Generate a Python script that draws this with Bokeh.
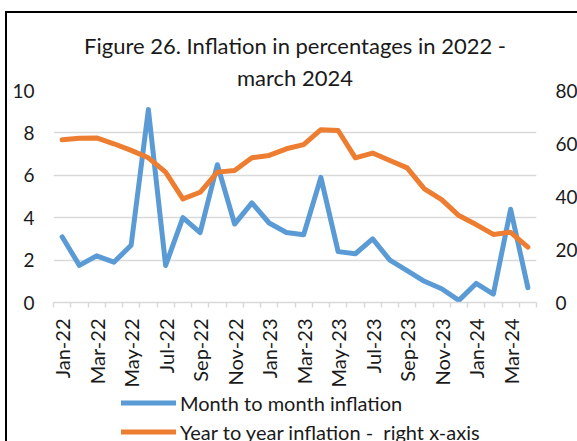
from math import pi
from bokeh.plotting import figure
from bokeh.layouts import column
from bokeh.models import (Range1d, LinearAxis, FixedTicker, Legend, LegendItem,
                          Title)
from bokeh.embed import file_html
from bokeh.resources import INLINE

months = ["Jan-22", "Feb-22", "Mar-22", "Apr-22", "May-22", "Jun-22", "Jul-22",
          "Aug-22", "Sep-22", "Oct-22", "Nov-22", "Dec-22", "Jan-23", "Feb-23",
          "Mar-23", "Apr-23", "May-23", "Jun-23", "Jul-23", "Aug-23", "Sep-23",
          "Oct-23", "Nov-23", "Dec-23", "Jan-24", "Feb-24", "Mar-24", "Apr-24"]
month_to_month = [3.1, 1.75, 2.2, 1.9, 2.7, 9.1, 1.75, 4.0, 3.3, 6.5, 3.7, 4.7,
                  3.75, 3.3, 3.2, 5.9, 2.4, 2.3, 3.0, 2.0, 1.5, 1.0, 0.65, 0.1,
                  0.9, 0.4, 4.4, 0.7]
year_to_year = [61.4, 62.0, 62.1, 59.9, 57.4, 54.6, 49.2, 39.1, 41.6, 49.2, 49.8,
                54.6, 55.5, 58.0, 59.6, 65.2, 64.9, 54.6, 56.4, 53.6, 50.8, 42.9,
                38.8, 32.8, 29.4, 25.7, 26.5, 20.9]
left_ticks = [0, 2, 4, 6, 8, 10]
right_ticks = [0, 20, 40, 60, 80]
title_lines = ["Figure 26. Inflation in percentages in 2022 -", "march 2024"]
series_names = ["Month to month inflation", "Year to year inflation -  right x-axis"]

FONT = "Lato"
TXT = "#1a1a1a"
GRID = "#D9D9D9"
BLUE = "#5B9BD5"
ORANGE = "#ED7D31"

n = len(months)
xs = [i + 0.5 for i in range(n)]

# ---------------- main chart ----------------
p = figure(frame_width=483, frame_height=212,
           min_border_left=53, min_border_right=41,
           min_border_top=90, min_border_bottom=88,
           x_range=Range1d(0, n), y_range=Range1d(0, left_ticks[-1]),
           output_backend="svg", toolbar_location=None)
p.extra_y_ranges = {"right": Range1d(0, right_ticks[-1])}
p.outline_line_color = None
p.background_fill_color = "white"
p.border_fill_color = None
p.styles = {
    "background": ("linear-gradient(#000, #000) 5px 11px / 2px 100% no-repeat, "
                   "linear-gradient(#000, #000) 5px 11px / 100% 2px no-repeat, "
                   "#ffffff"),
}

p.xgrid.grid_line_color = None
p.ygrid.grid_line_color = GRID
p.ygrid.grid_line_width = 1.5

xa = p.xaxis[0]
xa.ticker = FixedTicker(ticks=xs[::2], minor_ticks=list(range(n + 1)))
xa.major_label_overrides = {xs[i]: months[i] for i in range(0, n, 2)}
xa.major_label_orientation = pi / 2
xa.major_tick_line_color = None
xa.major_tick_out = 0
xa.major_tick_in = 0
xa.minor_tick_line_color = GRID
xa.minor_tick_line_width = 1.5
xa.minor_tick_out = 5
xa.minor_tick_in = 0
xa.axis_line_color = GRID
xa.axis_line_width = 1.5
xa.major_label_standoff = 11
xa.major_label_text_font = FONT
xa.major_label_text_font_size = "20px"
xa.major_label_text_color = TXT

ya = p.yaxis[0]
ya.ticker = FixedTicker(ticks=left_ticks)
ya.axis_line_color = None
ya.major_tick_line_color = None
ya.minor_tick_line_color = None
ya.major_tick_out = 0
ya.major_tick_in = 0
ya.major_label_standoff = 19
ya.major_label_text_font = FONT
ya.major_label_text_font_size = "19px"
ya.major_label_text_color = TXT

ra = LinearAxis(y_range_name="right", ticker=FixedTicker(ticks=right_ticks))
ra.axis_line_color = None
ra.major_tick_line_color = None
ra.minor_tick_line_color = None
ra.major_tick_out = 0
ra.major_tick_in = 0
ra.major_label_standoff = 19
ra.major_label_text_font = FONT
ra.major_label_text_font_size = "19px"
ra.major_label_text_color = TXT
p.add_layout(ra, "right")

p.line(xs, month_to_month, line_color=BLUE, line_width=5,
       line_join="round", line_cap="round")
p.line(xs, year_to_year, y_range_name="right", line_color=ORANGE,
       line_width=5, line_join="round", line_cap="round")

p.add_layout(Title(text=title_lines[1], align="center", text_font=FONT,
                   text_font_size="22px", text_color=TXT,
                   text_font_style="normal", standoff=0), "above")
p.add_layout(Title(text=title_lines[0], align="center", text_font=FONT,
                   text_font_size="22px", text_color=TXT,
                   text_font_style="normal", standoff=5), "above")

# ---------------- legend strip under the chart ----------------
lg = figure(width=577, height=51, min_border=0,
            x_axis_location=None, y_axis_location=None,
            output_backend="svg", toolbar_location=None)
lg.outline_line_color = None
lg.background_fill_color = None
lg.border_fill_color = None
lg.grid.visible = False
lg.styles = {
    "background": ("linear-gradient(#000, #000) 5px 0px / 2px 100% no-repeat, "
                   "#ffffff"),
}
# single-point keys: they draw nothing in the strip, only their legend swatches
k1 = lg.line(x=xs[:1], y=month_to_month[:1], line_color=BLUE, line_width=5,
             line_cap="round")
k2 = lg.line(x=xs[:1], y=month_to_month[:1], line_color=ORANGE, line_width=5,
             line_cap="round")

legend = Legend(items=[LegendItem(label=series_names[0], renderers=[k1]),
                       LegendItem(label=series_names[1], renderers=[k2])],
                location=(68, -5), orientation="vertical")
legend.border_line_color = None
legend.background_fill_alpha = 0
legend.label_text_font = FONT
legend.label_text_font_size = "20px"
legend.label_text_color = TXT
legend.glyph_width = 55
legend.glyph_height = 29
legend.label_height = 29
legend.spacing = 0
legend.padding = 0
legend.margin = 0
legend.label_standoff = 4
lg.add_layout(legend)

layout = column(p, lg, spacing=0)

open("out.html", "w").write(file_html(layout, INLINE))
